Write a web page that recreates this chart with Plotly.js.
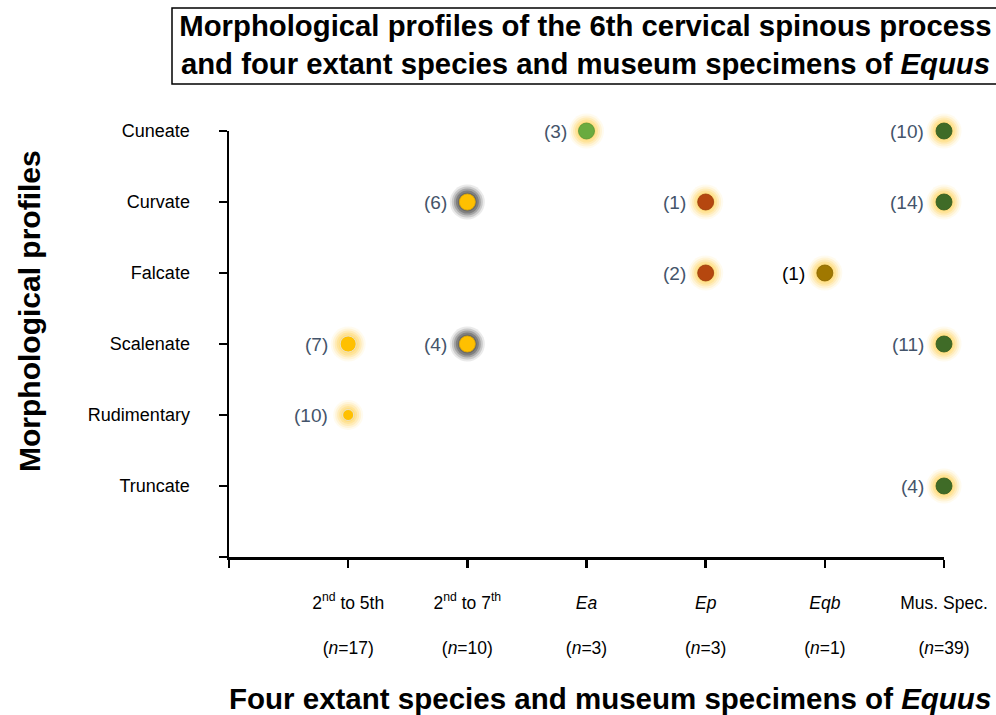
<!DOCTYPE html>
<html>
<head>
<meta charset="utf-8">
<script src="https://cdn.plot.ly/plotly-3.0.1.min.js"></script>
<style>html,body{margin:0;padding:0;background:#fff;}#chart{width:996px;height:715px;}</style>
</head>
<body>
<div id="chart"></div>
<script>
// Categories
const groupLabels = ["", "2<sup>nd</sup> to 5th", "2<sup>nd</sup> to 7<sup>th</sup>", "<i>Ea</i>", "<i>Ep</i>", "<i>Eqb</i>", "Mus. Spec."];
const groupN = ["", "17", "10", "3", "3", "1", "39"];
const profileLabels = ["", "Truncate", "Rudimentary", "Scalenate", "Falcate", "Curvate", "Cuneate"];

// Points: group index, profile index, count
const ptGroup   = [1, 1, 2, 2, 3, 4, 4, 5, 6, 6, 6, 6];
const ptProfile = [3, 2, 5, 3, 6, 5, 4, 4, 6, 5, 3, 1];
const ptCount   = [7, 10, 6, 4, 3, 1, 2, 1, 10, 14, 11, 4];

// Styles
const groupColor = {1:"#FFC000", 2:"#FFC000", 3:"#6AAB3F", 4:"#B5470F", 5:"#A07800", 6:"#3F6B27"};
const groupLine  = {1:"#e6e6e6", 2:"#e0a800", 3:"#5a9434", 4:"#9a3c0c", 5:"#876500", 6:"#345a20"};
const glowRGB    = {1:"255,214,100", 2:"85,85,85", 3:"255,214,100", 4:"255,214,100", 5:"255,214,100", 6:"255,214,100"};
const labelColor = {1:"#44546A", 2:"#44546A", 3:"#44546A", 4:"#44546A", 5:"#000000", 6:"#44546A"};

const xs = ptGroup, ys = ptProfile;
const sizes = ptGroup.map((g,i)=> (g===1 && ptProfile[i]===2) ? 11 : 16);

// soft glow: stacked translucent halos (outer to inner)
const glowSteps = [{add: 19, a: 0.1}, {add: 15, a: 0.17}, {add: 11, a: 0.26}, {add: 7, a: 0.36}, {add: 3, a: 0.45}];
const glowTraces = glowSteps.map(st => ({
  x: xs, y: ys, type: "scatter", mode: "markers", cliponaxis: false, hoverinfo: "skip",
  marker: {
    size: sizes.map((s,i)=> s + st.add),
    opacity: 1,
    color: ptGroup.map(g=>"rgba(" + glowRGB[g] + "," + (g===2 ? Math.min(1, st.a*1.25) : st.a) + ")"),
    line: {width: 0}
  }
}));
const dots = {
  x: xs, y: ys, type: "scatter", mode: "markers", cliponaxis: false,
  marker: {
    size: sizes,
    opacity: 1,
    color: ptGroup.map(g=>groupColor[g]),
    line: {width: 0.8, color: ptGroup.map(g=>groupLine[g])}
  }
};

const FONT = "Liberation Sans, Arial, sans-serif";

const pointLabels = ptCount.map((c,i)=>({
  x: xs[i], y: ys[i], xref: "x", yref: "y", text: "(" + c + ")",
  showarrow: false, xanchor: "right", yanchor: "middle", xshift: -18,
  font: {family: FONT, size: 19, color: labelColor[ptGroup[i]]}
}));

const axisTitles = [
  {text: "<b>Morphological profiles</b>", xref: "paper", yref: "paper",
   x: (29-229)/715, y: (557-311)/426, xanchor: "center", yanchor: "middle", textangle: -90,
   showarrow: false, font: {family: FONT, size: 30, color: "#000"}},
  {text: "<b>Four extant species and museum specimens of <i>Equus</i></b>", xref: "paper", yref: "paper",
   x: (610-229)/715, y: (557-698)/426, xanchor: "center", yanchor: "middle",
   showarrow: false, font: {family: FONT, size: 29.5, color: "#000"}}
];

const layout = {
  width: 996, height: 715,
  paper_bgcolor: "#fff", plot_bgcolor: "#fff",
  margin: {l: 229, r: 52, t: 131, b: 158},
  showlegend: false,
  font: {family: FONT, color: "#000"},
  title: {
    text: "<b>Morphological profiles of the 6th cervical spinous process<br>and four extant species and museum specimens of <i>Equus</i></b>",
    font: {size: 29.3, color: "#000"},
    xref: "container", yref: "container", x: 585.5/996, xanchor: "center", y: 1 - 36/715, yanchor: "middle"
  },
  xaxis: {
    range: [0, 6], tickmode: "array",
    tickvals: groupLabels.map((_,i)=>i),
    ticktext: groupLabels.map((t,i)=> t ? t + "<br>&nbsp;<br>(<i>n</i>=" + groupN[i] + ")" : " "),
    showgrid: false, zeroline: false, showline: true, linecolor: "#000", linewidth: 2.5,
    ticks: "outside", ticklen: 8, tickwidth: 2.5, tickcolor: "#000",
    tickfont: {size: 17.5, color: "#000"}, ticklabelstandoff: 20,
    fixedrange: true
  },
  yaxis: {
    range: [0, 6], tickmode: "array",
    tickvals: profileLabels.map((_,i)=>i),
    ticktext: profileLabels.map(t => t || " "),
    showgrid: false, zeroline: false, showline: true, linecolor: "#000", linewidth: 2.5,
    ticks: "outside", ticklen: 8, tickwidth: 2.5, tickcolor: "#000",
    tickfont: {size: 18, color: "#000"}, ticklabelstandoff: 25,
    fixedrange: true
  },
  shapes: [{
    type: "rect", xref: "paper", yref: "paper",
    x0: (172-229)/715, x1: (1000-229)/715, y0: (557-84)/426, y1: (557-8)/426,
    line: {color: "#000", width: 1.5}, fillcolor: "rgba(0,0,0,0)", layer: "below"
  }],
  annotations: pointLabels.concat(axisTitles)
};

Plotly.newPlot("chart", glowTraces.concat([dots]), layout, {displayModeBar: false, staticPlot: true});
</script>
</body>
</html>
